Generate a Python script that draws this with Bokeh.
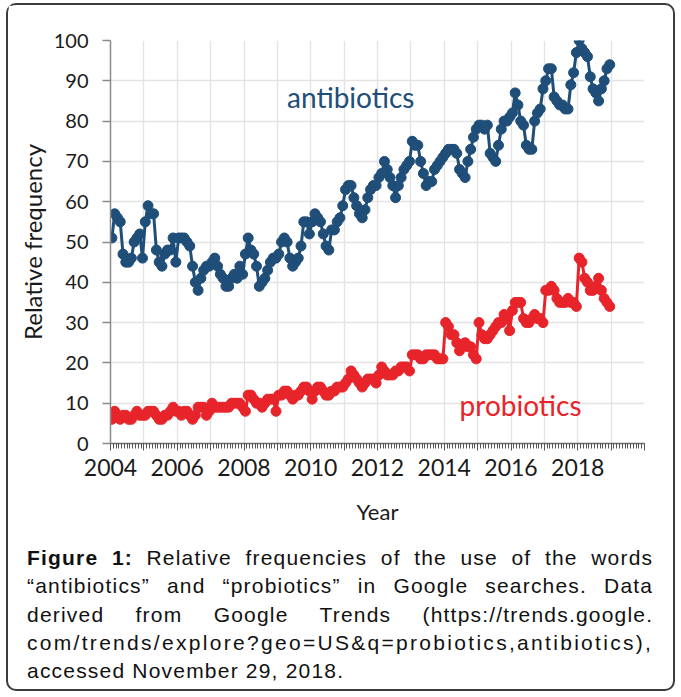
from bokeh.plotting import figure
from bokeh.models import FixedTicker, Label, Div, Spacer
from bokeh.layouts import column, row
from bokeh.embed import file_html
from bokeh.resources import INLINE

# ---- data (monthly, Jan 2004 - Dec 2018) ----
start_year = 2004
antibiotics = [
    51, 57, 56, 55, 47, 45, 45, 46, 50, 51, 52, 46,   # 2004
    55, 59, 57, 57, 48, 45, 44, 47, 48, 48, 51, 45,   # 2005
    51, 51, 51, 50, 49, 44, 40, 38, 41, 43, 44, 44,   # 2006
    45, 46, 44, 42, 41, 39, 39, 41, 42, 41, 44, 42,   # 2007
    47, 51, 48, 47, 44, 39, 40, 41, 43, 45, 46, 46,   # 2008
    47, 50, 51, 50, 46, 44, 45, 46, 49, 55, 55, 52,   # 2009
    55, 57, 56, 55, 52, 49, 48, 53, 53, 55, 56, 59,   # 2010
    63, 64, 64, 61, 59, 57, 56, 58, 61, 63, 64, 64,   # 2011
    66, 67, 70, 68, 66, 64, 61, 64, 66, 68, 69, 70,   # 2012
    75, 74, 74, 70, 67, 64, 65, 65, 68, 69, 70, 71,   # 2013
    72, 73, 73, 73, 72, 68, 67, 66, 70, 73, 76, 78,   # 2014
    79, 79, 78, 79, 72, 71, 70, 74, 78, 80, 80, 81,   # 2015
    82, 87, 84, 80, 79, 74, 73, 73, 80, 82, 83, 88,   # 2016
    90, 93, 93, 86, 85, 84, 84, 83, 83, 89, 92, 97,   # 2017
    100, 98, 97, 96, 91, 88, 87, 85, 88, 90, 93, 94,  # 2018
]
probiotics = [
    6, 8, 7, 6, 7, 7, 6, 6, 7, 8, 7, 7,               # 2004
    7, 8, 8, 8, 7, 6, 6, 7, 7, 8, 9, 8,               # 2005
    8, 7, 8, 8, 7, 6, 7, 9, 9, 9, 7, 8,               # 2006
    10, 9, 9, 9, 9, 9, 9, 10, 10, 10, 10, 9,          # 2007
    8, 12, 12, 11, 10, 10, 9, 10, 11, 11, 11, 8,      # 2008
    12, 12, 13, 13, 12, 11, 12, 12, 13, 14, 14, 13,   # 2009
    11, 13, 14, 14, 13, 12, 12, 13, 13, 14, 14, 14,   # 2010
    15, 16, 18, 17, 16, 15, 14, 15, 16, 16, 16, 15,   # 2011
    17, 19, 18, 17, 17, 17, 18, 18, 19, 19, 19, 18,   # 2012
    22, 22, 22, 21, 21, 22, 22, 22, 22, 21, 21, 21,   # 2013
    30, 29, 27, 27, 25, 23, 24, 25, 24, 24, 22, 21,   # 2014
    30, 27, 26, 26, 27, 28, 29, 30, 30, 32, 31, 28,   # 2015
    33, 35, 35, 35, 31, 30, 30, 31, 32, 31, 31, 30,   # 2016
    38, 38, 39, 38, 36, 35, 35, 35, 36, 35, 35, 34,   # 2017
    46, 45, 41, 40, 38, 38, 39, 41, 38, 36, 35, 34,   # 2018
]
year_ticks = list(range(2004, 2021))
labelled_years = [2004, 2006, 2008, 2010, 2012, 2014, 2016, 2018]
y_ticks = list(range(0, 101, 10))

# month centres as decimal years
months_x = [start_year + (i + 0.5) / 12 for i in range(len(antibiotics))]

BLUE = "#1f4e79"
RED = "#e8242b"

p = figure(width=655, height=527, x_range=(2004, 2020), y_range=(0, 100),
           output_backend="svg", toolbar_location=None,
           min_border_left=102, min_border_right=19, min_border_top=35,
           min_border_bottom=89, background_fill_color="white",
           border_fill_color="white")
p.outline_line_color = None

# grid
p.xgrid.ticker = FixedTicker(ticks=year_ticks)
p.ygrid.ticker = FixedTicker(ticks=y_ticks)
p.grid.grid_line_color = "#e4e4e4"
p.grid.grid_line_width = 1.5

# x axis
p.xaxis.ticker = FixedTicker(ticks=year_ticks,
                             minor_ticks=[start_year + k / 12 for k in range(16 * 12 + 1)])
p.xaxis.major_label_overrides = {y: ("" if y not in labelled_years else str(y)) for y in year_ticks}
p.xaxis.axis_line_color = "#6b6b6b"
p.xaxis.axis_line_width = 1.5
p.xaxis.major_tick_line_color = "#555555"
p.xaxis.minor_tick_line_color = "#555555"
p.xaxis.major_tick_in = 0
p.xaxis.major_tick_out = 7
p.xaxis.minor_tick_in = 0
p.xaxis.minor_tick_out = 5
p.xaxis.major_label_text_font = "Lato"
p.xaxis.major_label_text_font_size = "23px"
p.xaxis.major_label_text_color = "#1a1a1a"
p.xaxis.major_label_standoff = 8
p.xaxis.axis_label = "Year"
p.xaxis.axis_label_text_font = "Lato"
p.xaxis.axis_label_text_font_size = "22px"
p.xaxis.axis_label_text_font_style = "normal"
p.xaxis.axis_label_text_color = "#1a1a1a"
p.xaxis.axis_label_standoff = 19

# y axis
p.yaxis.ticker = FixedTicker(ticks=y_ticks)
p.yaxis.axis_line_color = "#8a8a8a"
p.yaxis.axis_line_width = 1.5
p.yaxis.major_tick_line_color = "#8a8a8a"
p.yaxis.major_tick_line_width = 1.5
p.yaxis.major_tick_in = 0
p.yaxis.major_tick_out = 8
p.yaxis.minor_tick_line_color = None
p.yaxis.major_label_text_font = "Lato"
p.yaxis.major_label_text_font_size = "20px"
p.yaxis.major_label_text_color = "#1a1a1a"
p.yaxis.major_label_standoff = 14
p.yaxis.axis_label = "Relative frequency"
p.yaxis.axis_label_text_font = "Lato"
p.yaxis.axis_label_text_font_size = "24px"
p.yaxis.axis_label_text_font_style = "normal"
p.yaxis.axis_label_text_color = "#1a1a1a"
p.yaxis.axis_label_standoff = 4

# series
p.line(months_x, antibiotics, line_color=BLUE, line_width=3)
p.scatter(months_x, antibiotics, size=10, fill_color=BLUE, line_color=BLUE)
p.line(months_x, probiotics, line_color=RED, line_width=3)
p.scatter(months_x, probiotics, size=10, fill_color=RED, line_color=RED)

p.add_layout(Label(x=2009.29, y=86.1, text="antibiotics", text_font="Lato",
                   text_font_size="28px", text_color=BLUE, text_baseline="alphabetic"))
p.add_layout(Label(x=2014.46, y=9.6, text="probiotics", text_font="Lato",
                   text_font_size="28px", text_color=RED, text_baseline="alphabetic"))

just = "text-align:justify; text-align-last:justify;"
caption_html = (
    '<div style="padding:7px 15px 0 14px; font-family:\'Liberation Sans\', Arial, sans-serif; '
    'font-size:21px; line-height:28.3px; color:#111; letter-spacing:1.2px;">'
    f'<div style="{just}"><b>Figure 1:</b> Relative frequencies of the use of the words</div>'
    f'<div style="{just}">\u201cantibiotics\u201d and \u201cprobiotics\u201d in Google searches. Data</div>'
    f'<div style="{just}">derived from Google Trends (https://trends.google.</div>'
    '<div style="letter-spacing:2.3px; white-space:nowrap;">com/trends/explore?geo=US&amp;q=probiotics,antibiotics),</div>'
    '<div>accessed November 29, 2018.</div>'
    '</div>'
)
caption = Div(text=caption_html, width=655, height=147)

boxed = column(p, caption,
               styles={"border": "2px solid #3c3c3c", "border-radius": "10px",
                       "background-color": "white"})
layout = column(Spacer(height=3, width=10), row(Spacer(width=6, height=10), boxed))

open("out.html", "w").write(file_html(layout, INLINE))
